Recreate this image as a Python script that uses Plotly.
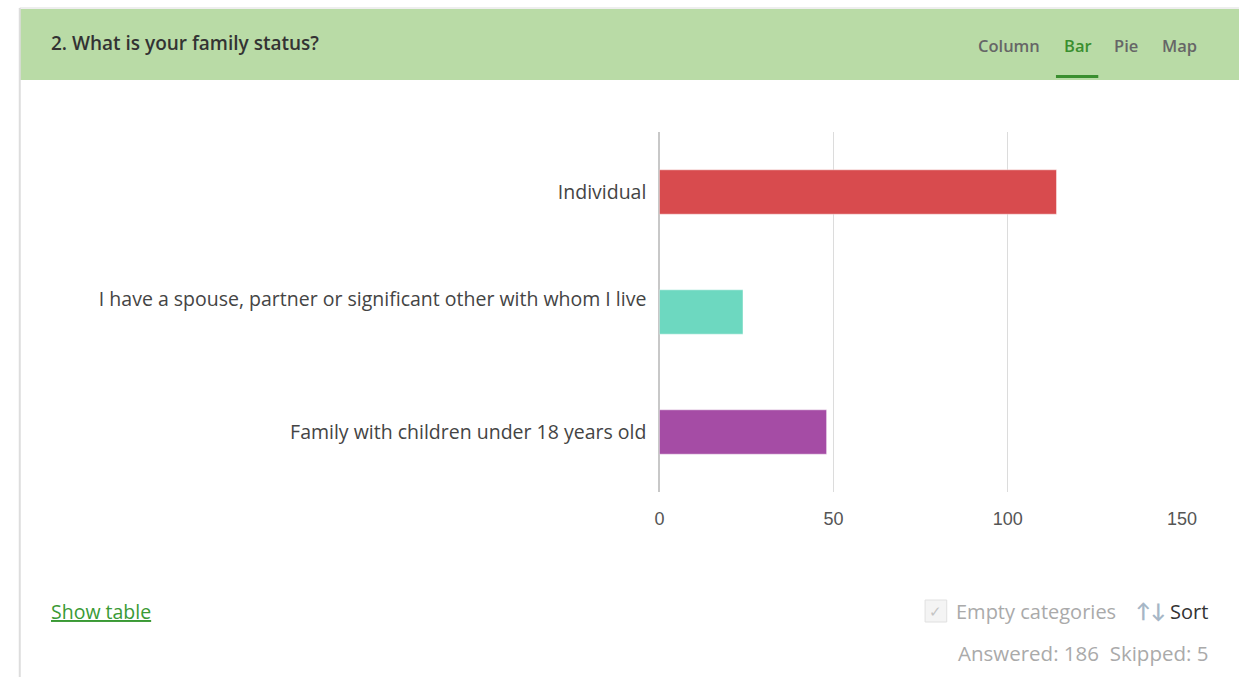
import plotly.graph_objects as go

# Survey question 2 responses
categories = [
    "Individual",
    "I have a spouse, partner or significant other with whom I live",
    "Family with children under 18 years old",
]
counts = [114, 24, 48]
bar_colors = ["#d84b4e", "#6dd8c0", "#a54ca5"]
x_ticks = [0, 50, 100, 150]
skipped = 5
answered = sum(counts)

W, H = 1254, 677


def px(x):
    return x / W


def py(y):
    return 1 - y / H


# the long label sits slightly above its bar
tick_text = [c if len(c) < 45 else c + "<br> " for c in categories]

fig = go.Figure()
fig.add_trace(go.Bar(
    y=categories,
    x=counts,
    orientation="h",
    marker=dict(color=bar_colors, line=dict(color="rgba(255,255,255,0.45)", width=1)),
    width=0.37,
    hoverinfo="x+y",
))

font_main = "'Open Sans', Lato, sans-serif"

fig.update_layout(
    width=W, height=H,
    margin=dict(l=0, r=0, t=0, b=0),
    paper_bgcolor="white",
    plot_bgcolor="white",
    showlegend=False,
    font=dict(family=font_main, color="#333"),
    xaxis=dict(
        domain=[px(665), px(1196)],
        range=[0, 150],
        tickvals=x_ticks,
        showgrid=True, gridcolor="#dcdcdc", gridwidth=1,
        zeroline=True, zerolinecolor="#c8c8c8", zerolinewidth=2,
        showline=False,
        ticks="", ticklabelstandoff=14,
        tickfont=dict(size=18, color="#555", family="'Liberation Sans', Arial, sans-serif"),
        fixedrange=True,
    ),
    yaxis=dict(
        domain=[py(492), py(132)],
        categoryorder="array", categoryarray=categories,
        tickvals=categories, ticktext=tick_text,
        autorange="reversed",
        showgrid=False, zeroline=False, showline=False,
        ticks="", ticklabelstandoff=12,
        tickfont=dict(size=19.5, color="#444", family=font_main),
        fixedrange=True,
    ),
)

shapes = [
    # outer card border
    dict(type="line", xref="paper", yref="paper", x0=px(15), x1=px(15), y0=py(8), y1=0,
         line=dict(color="#dddddd", width=2)),
    dict(type="line", xref="paper", yref="paper", x0=px(15), x1=1, y0=py(8), y1=py(8),
         line=dict(color="#dddddd", width=1)),
    # header band
    dict(type="rect", xref="paper", yref="paper", x0=px(15), x1=1, y0=py(80), y1=py(9),
         fillcolor="#b9dba6", line=dict(width=0), layer="below"),
    # active tab underline
    dict(type="rect", xref="paper", yref="paper", x0=px(1068), x1=px(1111), y0=py(78), y1=py(75),
         fillcolor="#3a8f2f", line=dict(width=0)),
    # checkbox
    dict(type="rect", xref="paper", yref="paper", x0=px(935), x1=px(957), y0=py(622), y1=py(600),
         fillcolor="#f4f4f4", line=dict(color="#e0e0e0", width=1)),
]
fig.update_layout(shapes=shapes)

semi = dict(weight=600)
ann = [
    dict(text="2. What is your family status?", x=px(45), y=py(43), xanchor="left",
         font=dict(size=19, color="#333", **semi)),
    dict(text="Column", x=px(1020), y=py(46), xanchor="center", font=dict(size=16.5, color="#666", **semi)),
    dict(text="Bar", x=px(1090), y=py(46), xanchor="center", font=dict(size=16.5, color="#3a8f2f", **semi)),
    dict(text="Pie", x=px(1139), y=py(46), xanchor="center", font=dict(size=16.5, color="#666", **semi)),
    dict(text="Map", x=px(1194), y=py(46), xanchor="center", font=dict(size=16.5, color="#666", **semi)),
    dict(text="<u>Show table</u>", x=px(45), y=py(611), xanchor="left",
         font=dict(size=19.5, color="#3a9a35")),
    dict(text="✓", x=px(946), y=py(611), xanchor="center", font=dict(size=15, color="#c4c4c4")),
    dict(text="Empty categories", x=px(964), y=py(611), xanchor="left", font=dict(size=20, color="#aaa")),
    dict(text="<b>↑↓</b>", x=px(1182), y=py(610), xanchor="right", font=dict(size=20, color="#a6b6c6")),
    dict(text="Sort", x=px(1225), y=py(611), xanchor="right", font=dict(size=20, color="#333")),
    dict(text=f"Answered: {answered}  Skipped: {skipped}", x=px(1225), y=py(653), xanchor="right",
         font=dict(size=20.5, color="#aaa")),
]
for a in ann:
    a.update(xref="paper", yref="paper", yanchor="middle", showarrow=False)
fig.update_layout(annotations=ann)

fig.write_html("out.html", config={"displayModeBar": False})
